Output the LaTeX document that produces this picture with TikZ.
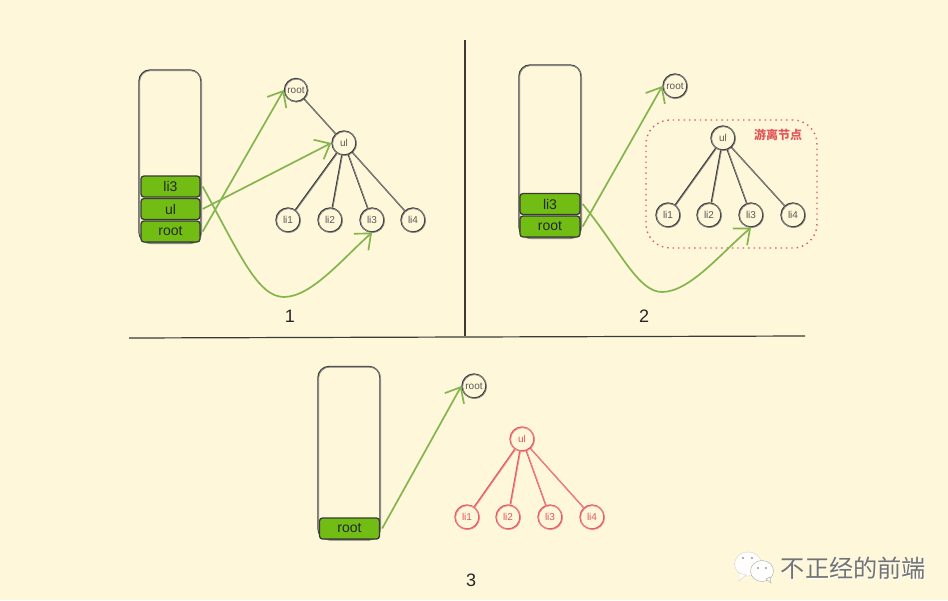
\documentclass[tikz,border=0pt]{standalone}
\usepackage{fontspec}
\setmainfont{Liberation Sans}
\newfontfamily\cjkf{Noto Sans CJK SC}
\usetikzlibrary{arrows.meta}
\definecolor{bgc}{HTML}{FEF7D9}
\definecolor{barc}{HTML}{72BD14}
\definecolor{arrc}{HTML}{84B54E}
\definecolor{inkc}{HTML}{3A3A38}
\definecolor{redc}{HTML}{E2575B}
\tikzset{
  sketch/.style={postaction={draw,inkc!60,line width=0.8pt,transform canvas={shift={(0.6pt,-0.6pt)}}}},
  sketchred/.style={postaction={draw,redc!70,line width=0.8pt,transform canvas={shift={(0.6pt,-0.6pt)}}}},
  stackbox/.style={draw=inkc,line width=1.3pt,rounded corners=11pt,minimum width=62pt,minimum height=173pt,inner sep=0,sketch},
  item/.style={draw=inkc,line width=1.3pt,fill=barc,rounded corners=3pt,minimum width=59pt,minimum height=21pt,inner sep=0,font=\fontsize{14}{15}\selectfont,text=black!85},
  tn/.style={circle,draw=inkc,line width=1.3pt,minimum size=24pt,inner sep=0,font=\fontsize{10}{11}\selectfont,text=black!65,sketch},
  tnred/.style={circle,draw=redc,line width=1.3pt,minimum size=24pt,inner sep=0,font=\fontsize{10}{11}\selectfont,text=redc,sketchred},
  edge/.style={draw=inkc,line width=1.3pt,sketch},
  edgered/.style={draw=redc,line width=1.3pt,sketchred},
  ptr/.style={draw=arrc,line width=1.7pt,-{Straight Barb[length=13pt,width=22pt,line width=1.7pt]}},
  num/.style={font=\fontsize{18}{19}\selectfont,text=black!85},
  rule/.style={draw=inkc,line width=1.2pt}
}
\begin{document}
\begin{tikzpicture}[x=1pt,y=-1pt]
\useasboundingbox (0,0) rectangle (948,600);
\fill[bgc] (0,0) rectangle (948,600);
% dividers
\coordinate (vt) at (465,40); \coordinate (vb) at (465,336);
\coordinate (hl) at (129,338); \coordinate (hr) at (805,336);
\draw[rule] (vt) -- (vb);
\draw[rule] (hl) -- (hr);
% panel 1
\node[stackbox] (sa) at (170,156.5) {};
\node[item] (ali) at (170.5,186.5) {li3};
\node[item] (aul) at (170.5,209) {ul};
\node[item] (art) at (170.5,231.5) {root};
\node[tn,minimum size=23pt] (troota) at (296,90) {root};
\node[tn] (tula) at (344,143) {ul};
\node[tn] (la) at (288,220) {li1};
\node[tn] (lb) at (330,220) {li2};
\node[tn] (lc) at (372,220) {li3};
\node[tn] (ld) at (413,220) {li4};
\draw[edge] (troota) -- (tula);
\foreach \t in {la,lb,lc,ld} \draw[edge] (tula) -- (\t);
\draw[ptr] ([xshift=2pt]art.east) -- (troota.west);
\draw[ptr] ([xshift=2pt]aul.east) -- (tula.west);
\draw[ptr] ([xshift=2pt]ali.east) .. controls (240,255) and (258,297) .. (284,297) .. controls (312,297) and (345,256) .. (lc.south);
\node[num] (na) at (290,316) {1};
% panel 2
\node[stackbox] (sb) at (550,151.5) {};
\node[item,minimum width=60pt] (bli) at (550,204) {li3};
\node[item,minimum width=60pt] (brt) at (550,226.5) {root};
\node[tn] (trootb) at (675,86) {root};
\node[draw=redc,line width=1.4pt,dash pattern=on 1.4pt off 4pt,rounded corners=24pt,minimum width=171pt,minimum height=128pt,inner sep=0] (grp) at (731.5,184) {};
\node[tn] (tulb) at (723,138) {ul};
\node[tn] (ma) at (668,215) {li1};
\node[tn] (mb) at (709,215) {li2};
\node[tn] (mc) at (751,215) {li3};
\node[tn] (md) at (793,215) {li4};
\foreach \t in {ma,mb,mc,md} \draw[edge] (tulb) -- (\t);
\draw[ptr] ([xshift=2pt]brt.east) -- (trootb.west);
\draw[ptr] ([xshift=2pt]bli.east) .. controls (620,250) and (638,292) .. (662,292) .. controls (690,292) and (722,252) .. (mc.south);
\node[font=\cjkf\bfseries\fontsize{12}{13}\selectfont,text=redc] (tag) at (778,135) {游离节点};
\node[num] (nb) at (644,316) {2};
% panel 3
\node[stackbox] (sc) at (349,453) {};
\node[item,minimum width=60pt] (crt) at (349.5,528.5) {root};
\node[tn] (trootc) at (474,386) {root};
\node[tnred] (tulc) at (522,439) {ul};
\node[tnred] (na1) at (467,517) {li1};
\node[tnred] (nb1) at (508,517) {li2};
\node[tnred] (nc1) at (550,517) {li3};
\node[tnred] (nd1) at (592,517) {li4};
\foreach \t in {na1,nb1,nc1,nd1} \draw[edgered] (tulc) -- (\t);
\draw[ptr] ([xshift=2pt]crt.east) -- (trootc.west);
\node[num] (nc) at (471,580) {3};
% watermark
\fill[white!92!bgc,draw=black!18,line width=0.4pt] (748,564) circle[x radius=13.5pt,y radius=12pt];
\fill[white!92!bgc,draw=black!18,line width=0.4pt] (739,573) -- (739,581) -- (746,575) -- cycle;
\fill[white,draw=black!30,line width=0.5pt] (762,571) circle[x radius=11.5pt,y radius=10.5pt];
\fill[white,draw=black!30,line width=0.5pt] (766,579) -- (771,583) -- (770,577) -- cycle;
\fill[black!40] (743,558) circle[radius=1.2pt] (752,558) circle[radius=1.2pt] (758,568) circle[radius=1.1pt] (766,568) circle[radius=1.1pt];
\node[font=\cjkf\fontsize{24.2}{25}\selectfont,text=white] (wms) at (854.5,568.8) {不正经的前端};
\node[font=\cjkf\fontsize{24.2}{25}\selectfont,text=black!55] (wm) at (853.5,568) {不正经的前端};
\end{tikzpicture}
\end{document}
